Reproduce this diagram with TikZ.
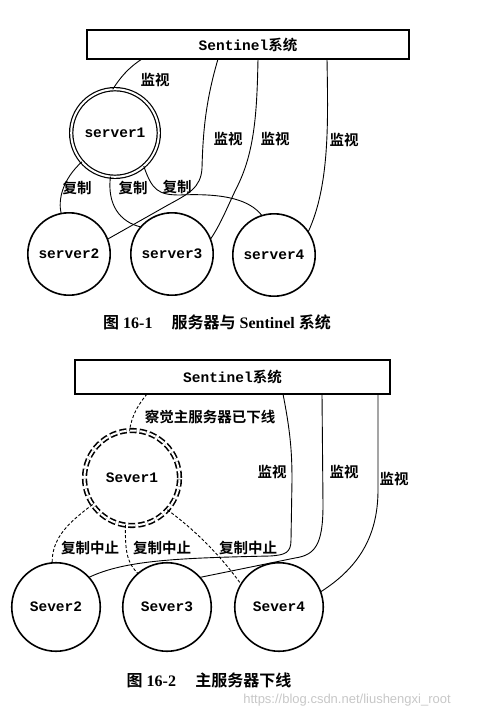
\documentclass[tikz,border=0pt]{standalone}
\usepackage{fontspec}
\setmainfont{Liberation Serif}
\newfontfamily\cjk{Noto Sans CJK SC}[BoldFont={* Bold}]
\newfontfamily\mono{Liberation Mono}
\newfontfamily\wm{Liberation Sans}
\begin{document}
\begin{tikzpicture}[x=1pt,y=-1pt,
  sysbox/.style={draw,line width=1.5pt,inner sep=0,outer sep=0,font=\mono\bfseries\fontsize{14.5}{16}\selectfont},
  srv/.style={draw,circle,line width=1.6pt,inner sep=0,outer sep=0,minimum size=82.4pt,font=\mono\bfseries\fontsize{14.5}{16}\selectfont},
  sev/.style={srv,minimum size=88.5pt},
  lbl/.style={font=\cjk\bfseries\fontsize{14.5}{16}\selectfont,inner sep=0},
  conn/.style={line width=0.9pt},
  dconn/.style={line width=0.9pt,dash pattern=on 3pt off 2pt},
  figcap/.style={font=\bfseries\fontsize{16}{18}\selectfont,inner sep=0}
]
\useasboundingbox (0,0) rectangle (483,717);
% ---------- Figure 16-1 ----------
\node[sysbox,minimum width=322pt,minimum height=29pt] (b1) at (248,44.5) {Sentinel{\cjk\bfseries 系统}};
\node[srv,double,line width=1.2pt,double distance=2pt,minimum size=87.6pt] (s1) at (115,133) {server1};
\node[srv] (s2) at (69,254) {server2};
\node[srv] (s3) at (172,254) {server3};
\node[srv] (s4) at (274,255) {server4};

\draw[conn] ([xshift=55pt]b1.south west) .. controls (128,68) and (120,78) .. (s1.93);
\draw[conn] ([xshift=131pt]b1.south west) .. controls (206,100) and (203,130) .. (202,168)
   .. controls (201,188) and (188,194) .. (168,205) -- (s2.21);
\draw[conn] ([xshift=171pt]b1.south west) .. controls (257,110) and (255,150) .. (238,185)
   .. controls (228,205) and (222,222) .. (s3.21);
\draw[conn] ([xshift=240pt]b1.south west) .. controls (328,120) and (330,185) .. (s4.34);

\draw[conn] (s1.221) .. controls (62,180) and (58,200) .. (s2.101);
\draw[conn] (s1.264) .. controls (107,205) and (120,222) .. (s3.139);
\draw[conn] (s1.311) .. controls (152,190) and (158,195) .. (180,195)
   .. controls (225,193) and (250,200) .. (s4.107);

\node[lbl] (l1) at (155,80) {监视};
\node[lbl] (l2) at (228,139) {监视};
\node[lbl] (l3) at (275,139) {监视};
\node[lbl] (l4) at (344,140) {监视};
\node[lbl] (r1) at (77,188) {复制};
\node[lbl] (r2) at (133,188) {复制};
\node[lbl] (r3) at (177,187) {复制};

\node[figcap] (cap1) at (217,322) {{\cjk\bfseries 图} 16-1\hspace{1.2em}{\cjk\bfseries 服务器与} Sentinel {\cjk\bfseries 系统}};

% ---------- Figure 16-2 ----------
\node[sysbox,minimum width=315pt,minimum height=34pt] (b2) at (232.5,377) {Sentinel{\cjk\bfseries 系统}};
\node[srv,double,line width=1.6pt,double distance=2pt,minimum size=95pt,dash pattern=on 7pt off 3pt] (S1) at (132,478) {Sever1};
\node[sev] (S2) at (56,607) {Sever2};
\node[sev] (S3) at (167,607) {Sever3};
\node[sev] (S4) at (279,607) {Sever4};

\draw[dconn] ([xshift=72pt]b2.south west) .. controls (138,405) and (132,415) .. (S1.93);

\draw[conn] ([xshift=208pt]b2.south west) .. controls (290,430) and (292,450) .. (292,480)
   -- (291,540) .. controls (291,553) and (285,555) .. (270,556)
   .. controls (180,558) and (125,560) .. (S2.42);
\draw[conn] ([xshift=247pt]b2.south west) -- (323,505)
   .. controls (323,545) and (315,555) .. (295,558)
   -- (S3.42);
\draw[conn] ([xshift=303pt]b2.south west) -- (378,490)
   .. controls (378,540) and (355,570) .. (S4.20);

\draw[dconn] (S1.214) .. controls (65,525) and (52,540) .. (S2.95);
\draw[dconn] (S1.262) .. controls (125,555) and (128,563) .. (S3.131);
\draw[dconn] (S1.318) .. controls (195,530) and (220,555) .. (S4.149);

\node[lbl] (t1) at (210,417) {察觉主服务器已下线};
\node[lbl] (m1) at (272,472) {监视};
\node[lbl] (m2) at (344,472) {监视};
\node[lbl] (m3) at (394,479) {监视};
\node[lbl] (z1) at (90,548) {复制中止};
\node[lbl] (z2) at (162,548) {复制中止};
\node[lbl] (z3) at (248,548) {复制中止};

\node[figcap] (cap2) at (209,680) {{\cjk\bfseries 图} 16-2\hspace{1.2em}{\cjk\bfseries 主服务器下线}};
\node[font=\wm\fontsize{13}{15}\selectfont,text=black!22,inner sep=0] (wmk) at (347,700) {https://blog.csdn.net/liushengxi\_root};
\end{tikzpicture}
\end{document}
